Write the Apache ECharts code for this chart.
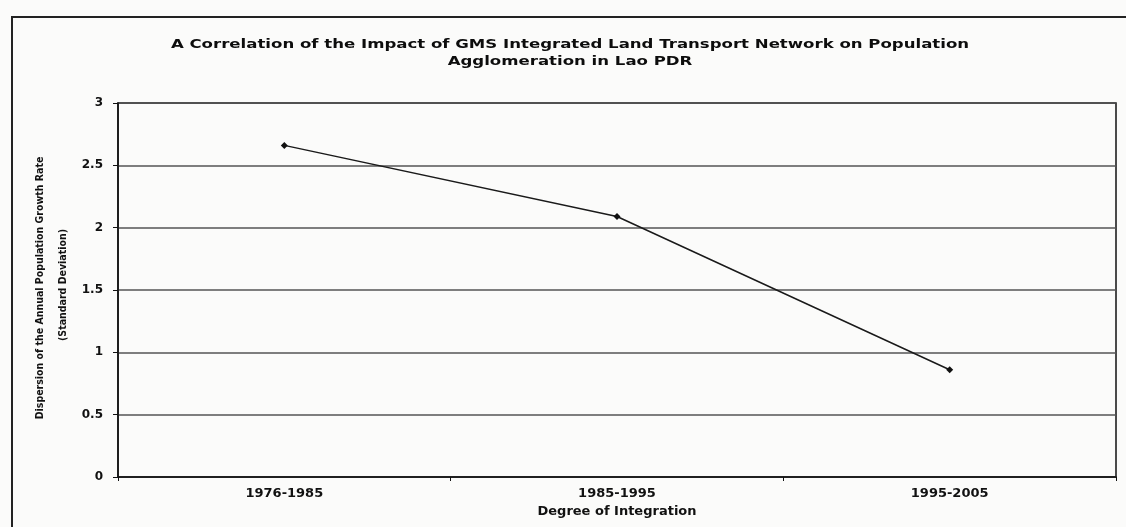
<!DOCTYPE html>
<html>
<head>
<meta charset="utf-8">
<script src="https://cdn.jsdelivr.net/npm/echarts@6/dist/echarts.min.js"></script>
<style>
  html, body { margin: 0; padding: 0; background: #fbfbfa; }
  #chart { width: 1126px; height: 527px; }
</style>
</head>
<body>
<div id="chart"></div>
<script>
// Degree of integration periods
const periods = ['1976-1985', '1985-1995', '1995-2005'];
// Standard deviation of annual population growth rate per period
const dispersion = [2.66, 2.09, 0.86];
// Value axis ticks
const yTicks = [0, 0.5, 1, 1.5, 2, 2.5, 3];

const titleLines = [
  'A Correlation of the Impact of GMS Integrated Land Transport Network on Population',
  'Agglomeration in Lao PDR'
];
const yName1 = 'Dispersion of the Annual Population Growth Rate';
const yName2 = '(Standard Deviation)';

const chart = echarts.init(document.getElementById('chart'), null, { renderer: 'canvas' });

const wideFont = '"DejaVu Sans", Verdana, sans-serif';
const narrowFont = '"Liberation Sans Narrow", "DejaVu Sans Condensed", sans-serif';

// heavy, stretched heading text
function titleLine(text, y) {
  return {
    type: 'text',
    x: 570, y: y,
    scaleX: 1.38,
    silent: true,
    style: {
      text: text,
      fontFamily: wideFont,
      fontWeight: 'bold',
      fontSize: 12,
      fill: '#0d0d0d',
      align: 'center',
      verticalAlign: 'middle'
    }
  };
}

function yNameLine(text, x, y) {
  return {
    type: 'text',
    x: x, y: y,
    rotation: Math.PI / 2,
    silent: true,
    style: {
      text: text,
      fontFamily: narrowFont,
      fontWeight: 'bold',
      fontSize: 10.5,
      fill: '#111',
      align: 'center',
      verticalAlign: 'middle'
    }
  };
}

chart.setOption({
  backgroundColor: '#fbfbfa',
  animation: false,
  graphic: [
    {
      // outer frame
      type: 'rect',
      shape: { x: 12, y: 17, width: 1200, height: 600 },
      style: { fill: 'none', stroke: '#222', lineWidth: 2 },
      silent: true
    },
    titleLine(titleLines[0], 45),
    titleLine(titleLines[1], 62),
    yNameLine(yName1, 40, 288),
    yNameLine(yName2, 63, 285)
  ],
  grid: {
    left: 118,
    right: 10,
    top: 103,
    bottom: 50,
    show: true,
    borderColor: '#111',
    borderWidth: 1.5,
    backgroundColor: 'transparent'
  },
  xAxis: {
    type: 'category',
    data: periods,
    boundaryGap: true,
    name: 'Degree of Integration',
    nameLocation: 'middle',
    nameGap: 28,
    nameTextStyle: { fontFamily: wideFont, fontWeight: 'bold', fontSize: 13, color: '#111' },
    axisLine: { show: true, lineStyle: { color: '#111', width: 1.5 } },
    axisTick: { show: true, length: 4, lineStyle: { color: '#111' } },
    axisLabel: { fontFamily: wideFont, fontWeight: 'bold', fontSize: 13, color: '#111', margin: 10 },
    splitLine: { show: false }
  },
  yAxis: {
    type: 'value',
    min: yTicks[0],
    max: yTicks[yTicks.length - 1],
    interval: 0.5,
    axisLine: { show: true, lineStyle: { color: '#111', width: 1.5 } },
    axisTick: { show: true, length: 5, lineStyle: { color: '#111' } },
    axisLabel: { fontFamily: wideFont, fontWeight: 'bold', fontSize: 12, color: '#111', margin: 15 },
    splitLine: { show: true, lineStyle: { color: '#555', width: 1.5 } }
  },
  series: [
    {
      type: 'line',
      data: dispersion,
      symbol: 'diamond',
      symbolSize: 7,
      lineStyle: { color: '#1a1a1a', width: 1.5 },
      itemStyle: { color: '#111' },
      z: 5
    }
  ]
});
</script>
</body>
</html>
